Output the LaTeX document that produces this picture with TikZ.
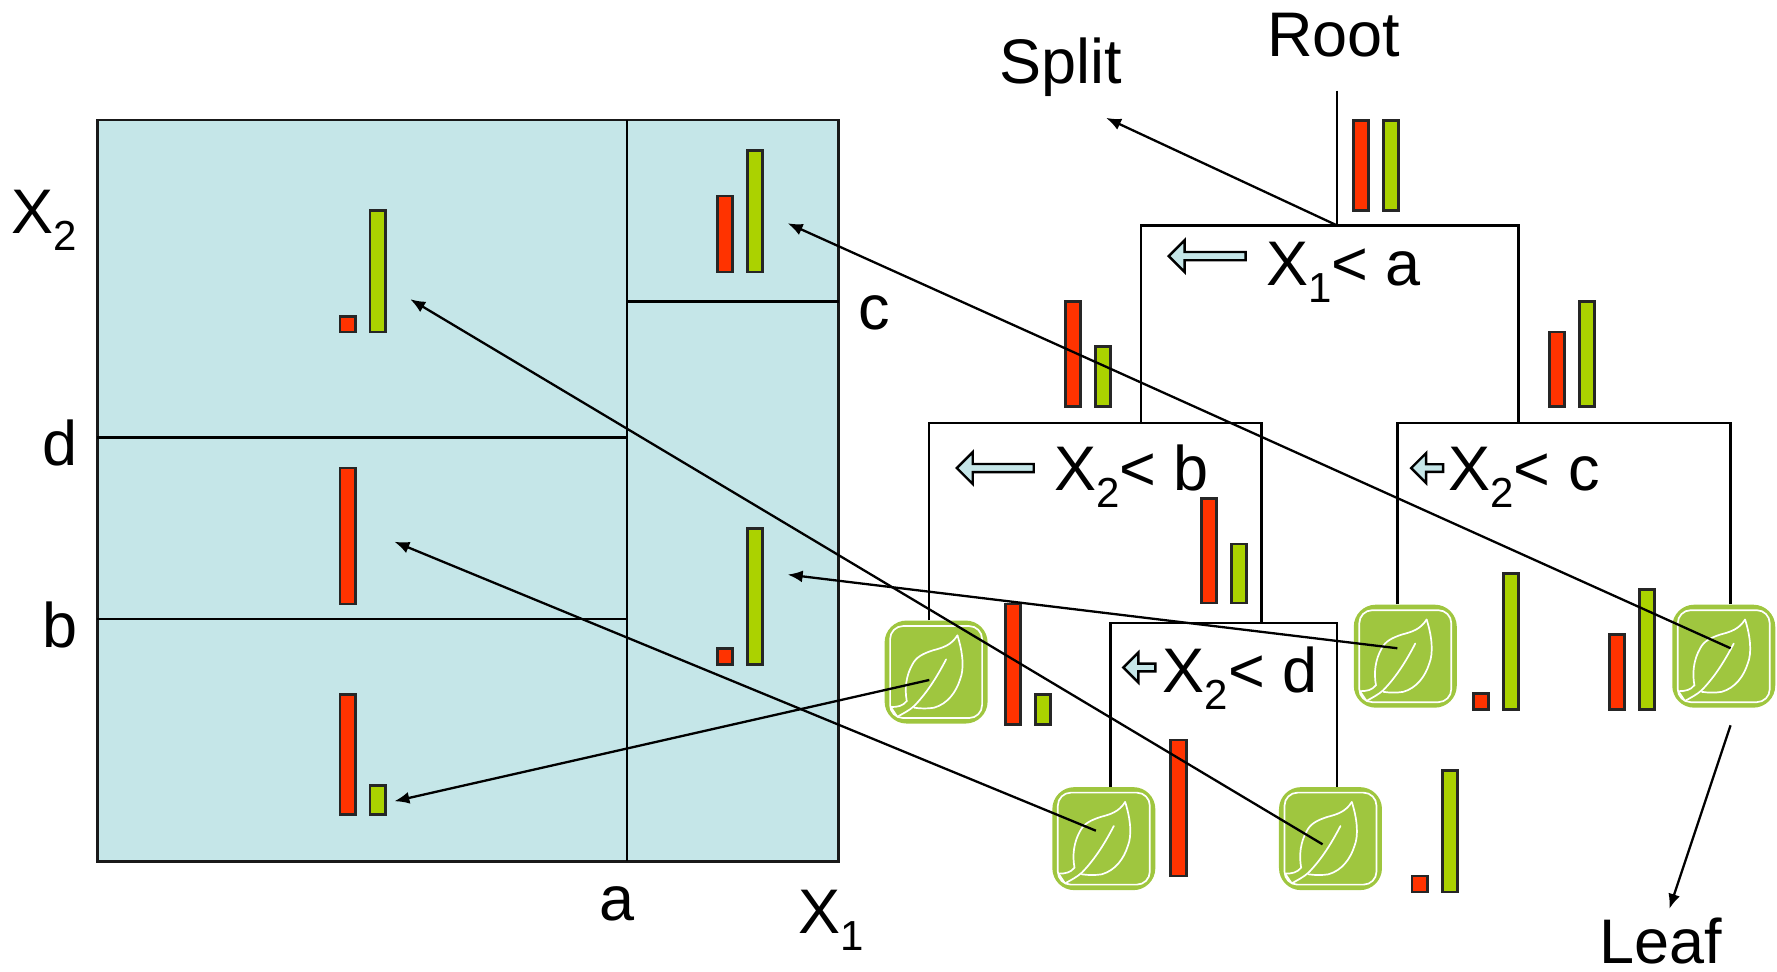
\documentclass[tikz,border=0pt]{standalone}
\usepackage{fontspec}
\setmainfont{Liberation Sans}
\usetikzlibrary{arrows.meta,shapes.arrows}
\definecolor{panelblue}{HTML}{C5E6E8}
\definecolor{barred}{HTML}{FF3300}
\definecolor{bargreen}{HTML}{ABD200}
\definecolor{leafgreen}{HTML}{9FC63F}
\newcommand{\subidx}[1]{\raisebox{-17pt}{\fontsize{42}{44}\selectfont #1}}

\begin{document}
\begin{tikzpicture}[
  x=1.1333pt, y=-1.1333pt,
  label/.style={anchor=base west, inner sep=0pt, font=\fontsize{63}{66}\selectfont},
  panel/.style={draw=black!90, line width=2.6pt, fill=panelblue},
  cut/.style={draw=black, line width=2.3pt},
  tree/.style={draw=black, line width=2.3pt},
  arrow/.style={-{Latex[length=15pt,width=12pt]}, line width=2.3pt},
  redbar/.style={draw=black!85, line width=2.8pt, fill=barred},
  greenbar/.style={draw=black!85, line width=2.8pt, fill=bargreen},
  leafbox/.style={rectangle, rounded corners=22pt, fill=leafgreen, minimum size=103pt, inner sep=0pt},
  hint/.style={single arrow, draw=black, line width=2.4pt, fill=panelblue, shape border rotate=180,
    inner sep=0pt, single arrow head extend=3.5pt, single arrow tip angle=90},
  leafmark/.pic={
    \begin{scope}[x=0.3333pt, y=-0.3333pt, draw=white, line width=1.7pt, line cap=round]
      \draw[rounded corners=13pt] (-138,-138) rectangle (138,138);
      \draw (64,-110) .. controls (45,-80) and (20,-73) .. (-10,-65)
        .. controls (-40,-55) and (-60,-45) .. (-71,-23)
        .. controls (-90,10) and (-95,50) .. (-88,87)
        .. controls (-100,102) and (-115,105) .. (-136,105);
      \draw (64,-110) .. controls (80,-60) and (85,-10) .. (72,22)
        .. controls (60,60) and (35,95) .. (-6,107)
        .. controls (-25,110) and (-45,110) .. (-66,107);
      \draw (30,-38) .. controls (5,10) and (-25,60) .. (-66,102)
        .. controls (-80,115) and (-100,125) .. (-116,134);
      \draw (-136,105) -- (-118,132);
    \end{scope}
  }
]
\useasboundingbox (0,0) rectangle (1568,857);

% feature space
\draw[panel] (86,106) rectangle (740,760);
\draw[cut] (553,106) -- (553,760);
\draw[cut] (553,266) -- (740,266);
\draw[cut] (86,386) -- (553,386);
\draw[cut] (86,546) -- (553,546);

\node[label] (x2axis) at (10,206) {X\subidx{2}};
\node[label] (x1axis) at (704,824) {X\subidx{1}};
\node[label] (dlab) at (37,411) {d};
\node[label] (blab) at (37,571) {b};
\node[label] (clab) at (757,291) {c};
\node[label] (alab) at (529,812) {a};

% tree
\node[label] (root) at (1118,50) {Root};
\node[label] (split) at (882,74) {Split};
\node[label] (leaf) at (1411,850) {Leaf};

\node[leafbox] (L1) at (826,593) {};
\node[leafbox] (L2) at (974,740) {};
\node[leafbox] (L3) at (1174,740) {};
\node[leafbox] (L4) at (1240,579) {};
\node[leafbox] (L5) at (1521,579) {};
\foreach \n in {L1,L2,L3,L4,L5} \pic at (\n) {leafmark};

\coordinate (rootTop) at (1180,80);
\coordinate (rootSplit) at (1180,199);
\coordinate (leftSplit) at (1007,373);
\coordinate (rightSplit) at (1340,373);
\coordinate (midDrop) at (1113,550);

\draw[tree] (rootTop) -- (rootSplit);
\draw[tree] (leftSplit) |- (rootSplit) -| (rightSplit);
\draw[tree] (820,0 |- L1.north) |- (midDrop |- leftSplit) -- (midDrop);
\draw[tree] (1233,0 |- L4.north) |- (rightSplit) -| (1527,0 |- L5.north);
\draw[tree] (980,0 |- L2.north) |- (midDrop) -| (1180,0 |- L3.north);

\node[label] (rule1) at (1117,252) {X\subidx{1}< a};
\node[label] (rule2) at (930,433) {X\subidx{2}< b};
\node[label] (rule3) at (1278,433) {X\subidx{2}< c};
\node[label] (rule4) at (1026,611) {X\subidx{2}< d};

\node[hint, minimum height=77pt, minimum width=32pt] (hint1) at (1067,226) {};
\node[hint, minimum height=77pt, minimum width=32pt] (hint2) at (880,413) {};
\node[hint, minimum height=32pt, minimum width=30pt] (hint3) at (1261,413) {};
\node[hint, minimum height=32pt, minimum width=30pt] (hint4) at (1007,589) {};

% class bars: left edge, red top, green top, bottom
\foreach \x/\rt/\gt/\b in {
  1194/106/106/186, 940/266/306/359, 1367/293/266/359, 1060/440/480/532,
  887/533/613/639, 1246/773/680/787, 1300/612/506/626, 1420/560/520/626,
  633/173/133/240, 300/279/186/293, 300/613/693/719, 633/572/466/586} {
  \draw[redbar] (\x,\rt) rectangle (\x+13.5,\b);
  \draw[greenbar] (\x+26.5,\gt) rectangle (\x+40,\b);
}
\draw[redbar] (1033,653) rectangle (1047,773);
\draw[redbar] (300,413) rectangle (314,533);

% leaves to regions
\coordinate (splitTip) at (976,104);
\coordinate (leafTop) at (1527,640);
\coordinate (leafTip) at (1473,802);
\coordinate (L1from) at (820,600);
\coordinate (L2from) at (967,733);
\coordinate (L3from) at (1167,745);
\coordinate (L4from) at (1233,572);
\coordinate (L5from) at (1527,572);
\coordinate (R1) at (348,707);
\coordinate (R2) at (348,478);
\coordinate (R3) at (362,264);
\coordinate (R4) at (695,507);
\coordinate (R5) at (695,197);

\draw[arrow] (rootSplit) -- (splitTip);
\draw[arrow] (leafTop) -- (leafTip);
\draw[arrow] (L1from) -- (R1);
\draw[arrow] (L2from) -- (R2);
\draw[arrow] (L3from) -- (R3);
\draw[arrow] (L4from) -- (R4);
\draw[arrow] (L5from) -- (R5);
\end{tikzpicture}
\end{document}
